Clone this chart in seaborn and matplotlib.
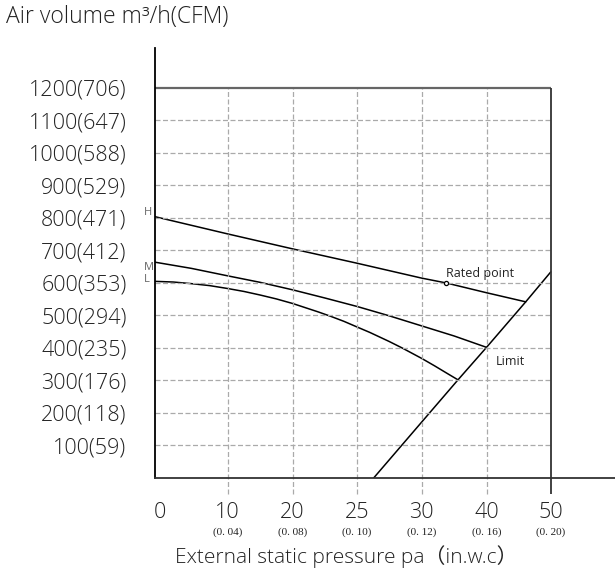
import numpy as np
import pandas as pd
import seaborn as sns
import matplotlib.pyplot as plt
from matplotlib.transforms import ScaledTranslation

# Fan performance chart: air volume vs external static pressure

# axis ticks / labels
pressure_ticks = [0, 10, 20, 25, 30, 40, 50]
pressure_labels = ["0", "10", "20", "25", "30", "40", "50"]
inwc_labels = ["", "(0. 04)", "(0. 08)", "(0. 10)", "(0. 12)", "(0. 16)", "(0. 20)"]
airflow_ticks = [100, 200, 300, 400, 500, 600, 700, 800, 900, 1000, 1100, 1200]
cfm_ticks = [59, 118, 176, 235, 294, 353, 412, 471, 529, 588, 647, 706]

# curves (pressure in Pa, air volume in m3/h)
h_pa = [0, 10, 20, 25, 30, 33.8, 40, 46.1]
h_m3h = [804, 751, 705, 661, 615, 600, 570, 542]
m_pa = [0, 5, 10, 15, 20, 22.5, 25, 27.5, 30, 35, 40]
m_m3h = [664, 645, 622, 602, 579, 554, 528, 499, 468, 437, 402]
l_pa = [0, 2.5, 5, 7.5, 10, 12.5, 15, 17.5, 20, 22, 23, 24, 25, 26, 27.5, 28.5,
        30, 32, 34, 35.6]
l_m3h = [605, 603, 598, 592, 583, 574, 563, 551, 537, 511, 497, 482, 465, 448, 420,
         400, 368, 345, 321, 302]
limit_pa = [26.3, 30, 35.6, 40, 46.1, 50]
limit_m3h = [0, 172, 302, 402, 542, 634]
rated_pa = [33.8]
rated_m3h = [600]

# the drawn axis spaces the ticks evenly, not proportionally
tick_units = np.array([0, 1.12, 2.12, 3.11, 4.11, 5.11, 6.1])


def forward(x):
    x = np.asarray(x, float)
    out = np.interp(x, pressure_ticks, tick_units)
    out = np.where(x > 50, 6.1 + (x - 50) * 0.099, out)
    out = np.where(x < 0, x * 0.112, out)
    return out


def inverse(u):
    u = np.asarray(u, float)
    out = np.interp(u, tick_units, pressure_ticks)
    out = np.where(u > 6.1, 50 + (u - 6.1) / 0.099, out)
    out = np.where(u < 0, u / 0.112, out)
    return out


df = pd.concat([
    pd.DataFrame({"pa": h_pa, "m3h": h_m3h, "curve": "H"}),
    pd.DataFrame({"pa": m_pa, "m3h": m_m3h, "curve": "M"}),
    pd.DataFrame({"pa": l_pa, "m3h": l_m3h, "curve": "L"}),
    pd.DataFrame({"pa": limit_pa, "m3h": limit_m3h, "curve": "Limit"}),
])

sns.set_style("white")
plt.rcParams["font.family"] = ["Open Sans", "Noto Sans CJK SC", "DejaVu Sans"]
plt.rcParams["font.weight"] = 300

fig = plt.figure(figsize=(6.15, 5.74), dpi=100)
ax = fig.add_axes([155 / 615, 96 / 574, 460 / 615, 430 / 574])
ax.set_xscale("function", functions=(forward, inverse))

sns.lineplot(data=df, x="pa", y="m3h", hue="curve",
             palette={"H": "black", "M": "black", "L": "black", "Limit": "black"},
             estimator=None, sort=False, legend=False, linewidth=1.1, ax=ax)
ax.scatter(rated_pa, rated_m3h, s=9, facecolor="white", edgecolor="black",
           linewidth=0.9, zorder=5)

ax.set_xlim(0, 60)
ax.set_ylim(0, 1323)

# grid and frame
grid_style = dict(colors="#aaaaaa", linestyles=(0, (4, 2)), linewidth=0.9)
ax.hlines(airflow_ticks[:-1], 0, 50, **grid_style)
ax.vlines(pressure_ticks[1:-1], -50, 1200, clip_on=False, **grid_style)
ax.hlines(1200, 0, 50, colors="#666666", linewidth=1.6)
ax.vlines(50, -50, 1200, colors="#333333", linewidth=1.3, clip_on=False)

for side in ["top", "right"]:
    ax.spines[side].set_visible(False)
ax.spines["left"].set_color("black")
ax.spines["left"].set_linewidth(1.3)
ax.spines["bottom"].set_color("#333333")
ax.spines["bottom"].set_linewidth(1.3)

ax.set_yticks(airflow_ticks, labels=[f"{a}({c})" for a, c in zip(airflow_ticks, cfm_ticks)])
ax.tick_params(axis="y", direction="out", length=12, width=1.3, color="#333333",
               pad=8.5, labelsize=15.5, labelcolor="#222222")
ax.set_xticks(pressure_ticks, labels=pressure_labels)
ax.tick_params(axis="x", length=0, pad=17, labelsize=15.5, labelcolor="#222222")
ax.minorticks_off()
ax.set_xlabel("")
ax.set_ylabel("")
# the "0" sits a little right of the axis in the original
zero_lbl = ax.get_xticklabels()[0]
zero_lbl.set_transform(zero_lbl.get_transform() + ScaledTranslation(0.05, 0, fig.dpi_scale_trans))

for p, lab in zip(pressure_ticks, inwc_labels):
    ax.annotate(lab, xy=(p, 0), xycoords=("data", "axes fraction"),
                xytext=(0, -39), textcoords="offset points", ha="center", va="center",
                fontsize=8, family="Liberation Serif", fontweight="normal", color="#222222")

# curve labels
small = dict(fontsize=8, color="#666666", fontweight="normal", clip_on=False,
             ha="center", va="center")
ax.text(-0.9, 818, "H", **small)
ax.text(-0.9, 649, "M", **small)
ax.text(-1.1, 612, "L", **small)
ax.text(33.8, 628, "Rated point", ha="left", va="center", fontsize=9,
        fontweight="normal", color="#222222")
ax.text(41.5, 357, "Limit", ha="left", va="center", fontsize=9,
        fontweight="normal", color="#222222")

fig.text(6 / 615, 1 - 17 / 574, "Air volume m³/h(CFM)", ha="left", va="center",
         fontsize=16.5, color="#222222")
fig.text(346 / 615, 1 - 557 / 574, "External static pressure pa（in.w.c）",
         ha="center", va="center", fontsize=15, color="#222222")

plt.savefig("out.png", dpi=100)
